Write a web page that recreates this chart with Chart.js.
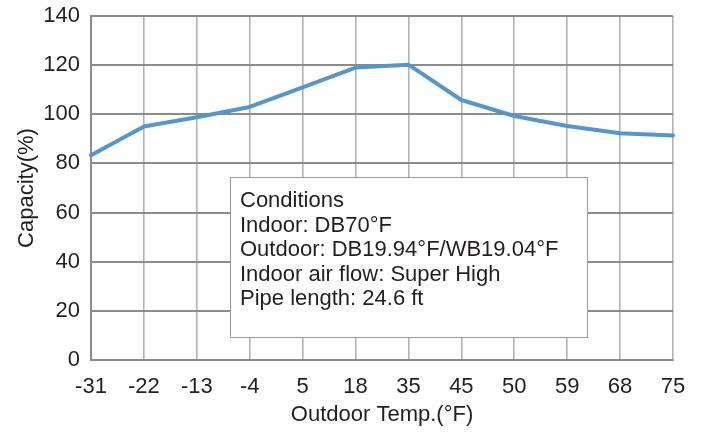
<!DOCTYPE html>
<html>
<head>
<meta charset="utf-8">
<script src="https://cdn.jsdelivr.net/npm/chart.js@4.4.1/dist/chart.umd.min.js"></script>
<style>
    html, body { margin: 0; padding: 0; background: #ffffff; }
    #wrap { width: 705px; height: 436px; }
</style>
</head>
<body>
<div id="wrap"><canvas id="chart-capacity"></canvas></div>
<script>
"use strict";

const temps = ['-31', '-22', '-13', '-4', '5', '18', '35', '45', '50', '59', '68', '75'];
const capacity = [83.3, 95, 98.8, 103, 111, 119, 120.2, 105.8, 99.3, 95.2, 92.3, 91.4];
const yTicks = [0, 20, 40, 60, 80, 100, 120, 140];
const conditions = [
    'Conditions',
    'Indoor: DB70°F',
    'Outdoor: DB19.94°F/WB19.04°F',
    'Indoor air flow: Super High',
    'Pipe length: 24.6 ft'
];

const textColor = '#231f20';
const fontFamily = 'Arial, "Liberation Sans", sans-serif';

const conditionsBox = {
    id: 'conditionsBox',
    afterDatasetsDraw(chart) {
        const ctx = chart.ctx;
        const area = chart.chartArea;
        const x = area.left + 139;
        const y = area.top + 161;
        const w = 357;
        const h = 160;
        ctx.save();
        ctx.fillStyle = '#ffffff';
        ctx.fillRect(x, y, w, h);
        ctx.strokeStyle = '#9a9a9a';
        ctx.lineWidth = 1;
        ctx.strokeRect(x + 0.5, y + 0.5, w, h);
        ctx.fillStyle = textColor;
        ctx.font = '22px ' + fontFamily;
        ctx.textBaseline = 'alphabetic';
        conditions.forEach((line, i) => {
            ctx.fillText(line, x + 10, y + 30 + i * 24.6);
        });
        ctx.restore();
    }
};

new Chart(document.getElementById('chart-capacity').getContext('2d'), {
    type: 'line',
    data: {
        labels: temps,
        datasets: [{
            label: 'Capacity',
            data: capacity,
            borderColor: '#5596cb',
            borderWidth: 4,
            pointRadius: 0,
            tension: 0,
            borderCapStyle: 'round',
            borderJoinStyle: 'round'
        }]
    },
    options: {
        responsive: true,
        maintainAspectRatio: false,
        animation: false,
        layout: {
            padding: { top: 16, right: 32, bottom: 0, left: 0 }
        },
        plugins: {
            legend: { display: false },
            tooltip: { enabled: false }
        },
        scales: {
            x: {
                offset: false,
                grid: {
                    color: '#b3b3b3',
                    lineWidth: 1.6,
                    drawTicks: false
                },
                border: { color: '#8c8c8c', width: 2 },
                ticks: {
                    color: textColor,
                    font: { size: 22, family: fontFamily },
                    padding: 14,
                    maxRotation: 0,
                    autoSkip: false
                },
                title: {
                    display: true,
                    text: 'Outdoor Temp.(°F)',
                    color: textColor,
                    font: { size: 22, family: fontFamily },
                    padding: { top: 0, bottom: 8 }
                },
                afterFit(scale) {
                    scale.height = 76;
                    scale.paddingLeft = 0;
                    scale.paddingRight = 0;
                }
            },
            y: {
                min: 0,
                max: 140,
                afterBuildTicks(scale) {
                    scale.ticks = yTicks.map(v => ({ value: v }));
                },
                grid: {
                    color: '#8c8c8c',
                    lineWidth: 2,
                    drawTicks: false
                },
                border: { color: '#8c8c8c', width: 2 },
                ticks: {
                    color: textColor,
                    font: { size: 22, family: fontFamily },
                    padding: 11
                },
                title: {
                    display: true,
                    text: 'Capacity(%)',
                    color: textColor,
                    font: { size: 22, family: fontFamily },
                    padding: { top: 14, bottom: 0 }
                },
                afterFit(scale) {
                    scale.width = 91;
                    scale.paddingTop = 0;
                    scale.paddingBottom = 0;
                }
            }
        }
    },
    plugins: [conditionsBox]
});
</script>
</body>
</html>
